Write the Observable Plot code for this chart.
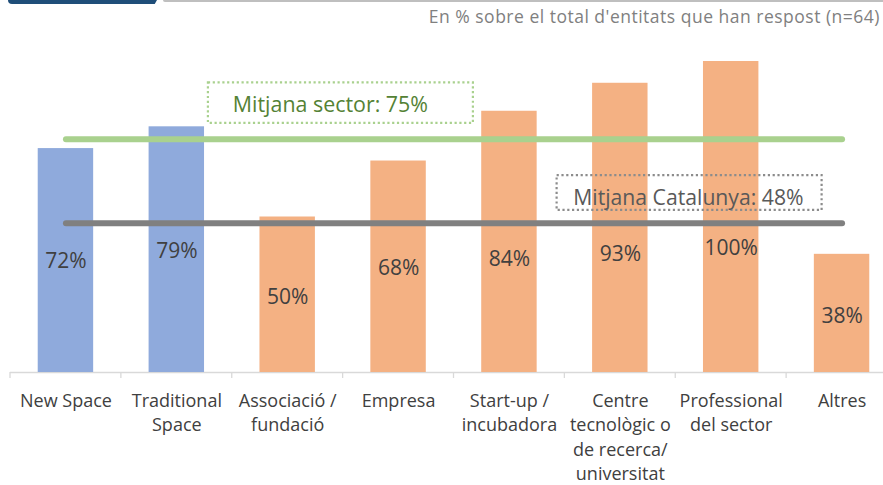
<!DOCTYPE html>
<html>
<head>
<meta charset="utf-8">
<script src="https://cdn.jsdelivr.net/npm/d3@7"></script>
<script src="https://cdn.jsdelivr.net/npm/@observablehq/plot@0.6"></script>
<style>
  body { margin: 0; background: #ffffff; }
  #wrap { position: relative; width: 883px; height: 485px; overflow: hidden; font-family: "Open Sans", sans-serif; }
  #tab { position: absolute; left: 8px; top: 0; width: 149px; height: 4px; background: #1f4e79; border-bottom-left-radius: 4px; clip-path: polygon(0 0, 100% 0, 98.5% 100%, 0 100%); }
  #topline { position: absolute; left: 163px; top: 0; width: 720px; height: 2px; background: #bfbfbf; border-bottom-left-radius: 2px; }
  #subtitle { position: absolute; right: 3px; top: 6px; font-size: 17.5px; letter-spacing: 0.5px; line-height: 1.2; color: #808080; white-space: nowrap; }
  #chart { position: absolute; left: 0; top: 0; }
</style>
</head>
<body>
<div id="wrap">
  <div id="chart"></div>
  <div id="tab"></div>
  <div id="topline"></div>
  <div id="subtitle"></div>
</div>
<script>
// ---- Data ----
const categories = [
  "New Space",
  "Traditional Space",
  "Associació / fundació",
  "Empresa",
  "Start-up / incubadora",
  "Centre tecnològic o de recerca/ universitat",
  "Professional del sector",
  "Altres"
];
const tickLabels = [
  "New Space",
  "Traditional\nSpace",
  "Associació /\nfundació",
  "Empresa",
  "Start-up /\nincubadora",
  "Centre\ntecnològic o\nde recerca/\nuniversitat",
  "Professional\ndel sector",
  "Altres"
];
const values = [72, 79, 50, 68, 84, 93, 100, 38];
const groups = ["Space", "Space", "Other", "Other", "Other", "Other", "Other", "Other"];
const sectorMean = 75;
const cataloniaMean = 48;
const sectorLabel = "Mitjana sector: 75%";
const cataloniaLabel = "Mitjana Catalunya: 48%";
const subtitle = "En % sobre el total d'entitats que han respost (n=64)";

document.getElementById("subtitle").textContent = subtitle;

const rows = categories.map((c, i) => ({category: c, value: values[i], group: groups[i], tick: tickLabels[i]}));

// Value-label heights (in % units) as placed in the original chart
const labelAt = [35.8, 39.0, 24.2, 33.5, 36.4, 38.0, 39.9, 18.0];

// Tick marks at category-slot boundaries and the two annotation boxes,
// positioned through the chart's own x and y scales.
function slotFn(scales) {
  const x = scales.x;
  const step = x.step();
  const start = x(categories[0]) + x.bandwidth() / 2 - step / 2;
  return p => start + p * step;
}

function ticksMark(index, scales) {
  const slot = slotFn(scales);
  const y0 = scales.y(0);
  const g = d3.create("svg:g");
  for (let i = 0; i <= categories.length; i++) {
    g.append("line")
      .attr("x1", slot(i)).attr("x2", slot(i))
      .attr("y1", y0).attr("y2", y0 + 6)
      .attr("stroke", "#d9d9d9").attr("stroke-width", 1.3);
  }
  return g.node();
}

function annotationMark(index, scales) {
  const slot = slotFn(scales);
  const y = scales.y;
  const g = d3.create("svg:g").attr("font-family", "Open Sans").attr("text-anchor", "start");
  const boxes = [
    {label: sectorLabel, x1: 1.785, x2: 4.175, y1: 80.1, y2: 93.1, tx: 2.01, ty: 86.2, stroke: "#a9d18e", fill: "#548235", size: 21.4},
    {label: cataloniaLabel, x1: 4.93, x2: 7.32, y1: 52.1, y2: 63.3, tx: 5.08, ty: 56.3, stroke: "#8c8c8c", fill: "#595959", size: 21.2}
  ];
  for (const b of boxes) {
    g.append("rect")
      .attr("x", slot(b.x1)).attr("width", slot(b.x2) - slot(b.x1))
      .attr("y", y(b.y2)).attr("height", y(b.y1) - y(b.y2))
      .attr("fill", "none").attr("stroke", b.stroke)
      .attr("stroke-width", 2.2).attr("stroke-dasharray", "2.2 2.6");
    g.append("text")
      .attr("x", slot(b.tx)).attr("y", y(b.ty)).attr("dy", "0.36em")
      .attr("font-size", b.size)
      .attr("fill", b.fill).text(b.label);
  }
  return g.node();
}

const chart = Plot.plot({
  width: 883,
  height: 485,
  marginTop: 0,
  marginLeft: 10,
  marginRight: 0,
  marginBottom: 113,
  style: {fontFamily: "Open Sans", background: "transparent", overflow: "visible"},
  x: {domain: categories, range: [10, 897], paddingInner: 0.5, paddingOuter: 0.25, round: false, axis: null},
  y: {domain: [0, 100], range: [372, 61], axis: null},
  color: {domain: ["Space", "Other"], range: ["#8faadc", "#f4b183"]},
  marks: [
    Plot.ruleY([0], {stroke: "#d9d9d9", strokeWidth: 1.3}),
    ticksMark,
    Plot.barY(rows, {x: "category", y: "value", fill: "group"}),
    Plot.lineY(categories, {x: d => d, y: () => sectorMean, stroke: "#a9d18e", strokeWidth: 6, strokeLinecap: "round"}),
    Plot.lineY(categories, {x: d => d, y: () => cataloniaMean, stroke: "#808080", strokeWidth: 6, strokeLinecap: "round"}),
    Plot.text(rows, {x: "category", y: (d, i) => labelAt[i], text: d => d.value + "%", fontSize: 21, fill: "#404040"}),
    Plot.text(rows, {x: "category", y: () => 0, text: "tick", lineAnchor: "top", dy: 17, lineHeight: 1.36, fontSize: 18, fill: "#404040"}),
    annotationMark
  ]
});
document.getElementById("chart").appendChild(chart);
</script>
</body>
</html>
